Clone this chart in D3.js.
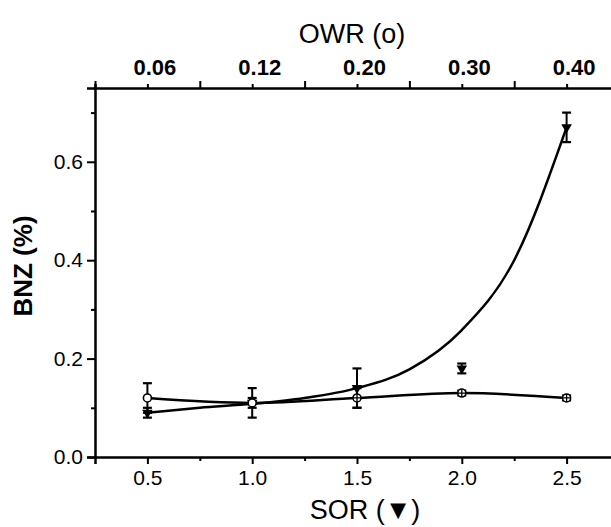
<!DOCTYPE html>
<html>
<head>
<meta charset="utf-8">
<script src="https://cdn.jsdelivr.net/npm/d3@7"></script>
<style>
  body { margin: 0; background: #fff; }
  svg { font-family: "Liberation Sans", Arial, "DejaVu Sans", sans-serif; }
  .axis path, .axis line { stroke: #000; }
  .axis text { fill: #000; font-family: "Liberation Sans", Arial, sans-serif; }
</style>
</head>
<body>
<div id="chart"></div>
<script>
//*********************** DATA ***********************
var sor = [0.5, 1.0, 1.5, 2.0, 2.5];                 // bottom axis positions
var owrLabels = ["0.06", "0.12", "0.20", "0.30", "0.40"]; // top axis labels
var owrVal = [0.12, 0.11, 0.12, 0.13, 0.12];
var owrErr = [0.03, 0.03, 0.02, 0.005, 0.005];
var sorVal = [0.09, 0.11, 0.14, 0.18, 0.67];
var sorErr = [0.01, 0.01, 0.04, 0.01, 0.03];
// fitted curve for SOR series
var sorFitX = [0.5, 0.75, 1.0, 1.25, 1.5, 1.75, 2.0, 2.25, 2.5];
var sorFitY = [0.09, 0.10, 0.108, 0.12, 0.14, 0.178, 0.258, 0.40, 0.67];

//*********************** SETUP ***********************
var width = 611, height = 527;
var x = d3.scaleLinear().domain([0.25, 2.75]).range([95, 619]);
var y = d3.scaleLinear().domain([0, 0.75]).range([457, 88]);

var svg = d3.select("#chart").append("svg")
  .attr("width", width).attr("height", height);

//*********************** AXES ***********************
// bottom
var bottomAx = svg.append("g").attr("class", "axis")
  .attr("transform", "translate(0," + y(0) + ")")
  .call(d3.axisBottom(x).tickValues(sor).tickFormat(d3.format(".1f"))
    .tickSize(7).tickPadding(6));
bottomAx.append("g").call(d3.axisBottom(x).tickValues([0.75, 1.25, 1.75, 2.25]).tickSize(4).tickFormat(""))
  .select(".domain").remove();
bottomAx.select(".domain").attr("stroke-width", 2.5);
bottomAx.selectAll("line").attr("stroke-width", 2);
bottomAx.selectAll("text").attr("font-size", 21);

// top
var topAx = svg.append("g").attr("class", "axis")
  .attr("transform", "translate(0," + y(0.75) + ")")
  .call(d3.axisTop(x).tickValues(sor).tickFormat(function(d, i) { return owrLabels[i]; })
    .tickSize(4).tickPadding(9));
topAx.append("g").call(d3.axisTop(x).tickValues([0.25, 0.75, 1.25, 1.75, 2.25, 2.75]).tickSize(7).tickFormat(""))
  .select(".domain").remove();
topAx.select(".domain").attr("stroke-width", 2.5);
topAx.selectAll("line").attr("stroke-width", 2);
topAx.selectAll("text").attr("font-size", 22).attr("font-weight", "bold").attr("dx", 7);

// left
var leftAx = svg.append("g").attr("class", "axis")
  .attr("transform", "translate(" + x(0.25) + ",0)")
  .call(d3.axisLeft(y).tickValues([0, 0.2, 0.4, 0.6]).tickFormat(d3.format(".1f"))
    .tickSize(8).tickPadding(4));
leftAx.append("g").call(d3.axisLeft(y).tickValues([0.1, 0.3, 0.5, 0.7]).tickSize(4).tickFormat(""))
  .select(".domain").remove();
leftAx.select(".domain").attr("stroke-width", 2.5);
leftAx.selectAll("line").attr("stroke-width", 2);
leftAx.selectAll("text").attr("font-size", 21);

// titles
svg.append("text").attr("x", 352).attr("y", 43).attr("text-anchor", "middle")
  .attr("font-size", 27).text("OWR (o)");
svg.append("text").attr("x", 365).attr("y", 519).attr("text-anchor", "middle")
  .attr("font-size", 27).text("SOR (▼)");
svg.append("text").attr("transform", "translate(32," + 266 + ") rotate(-90)")
  .attr("text-anchor", "middle").attr("font-size", 26).attr("font-weight", "bold")
  .text("BNZ (%)");

//*********************** CURVES ***********************
var owrPts = sor.map(function(d, i) { return [d, owrVal[i]]; });
var fitPts = sorFitX.map(function(d, i) { return [d, sorFitY[i]]; });
var line = d3.line().x(function(d) { return x(d[0]); }).y(function(d) { return y(d[1]); })
  .curve(d3.curveMonotoneX);

svg.append("path").datum(owrPts).attr("d", line)
  .attr("fill", "none").attr("stroke", "#000").attr("stroke-width", 2.5);
svg.append("path").datum(fitPts).attr("d", line)
  .attr("fill", "none").attr("stroke", "#000").attr("stroke-width", 2.5);

//*********************** ERROR BARS + MARKERS ***********************
function errorBars(g, vals, errs, cap) {
  var eb = g.selectAll("g").data(sor).enter().append("g");
  eb.append("line")
    .attr("x1", function(d) { return x(d); }).attr("x2", function(d) { return x(d); })
    .attr("y1", function(d, i) { return y(vals[i] + errs[i]); })
    .attr("y2", function(d, i) { return y(vals[i] - errs[i]); })
    .attr("stroke", "#000").attr("stroke-width", 2);
  [1, -1].forEach(function(s) {
    eb.append("line")
      .attr("x1", function(d) { return x(d) - cap; }).attr("x2", function(d) { return x(d) + cap; })
      .attr("y1", function(d, i) { return y(vals[i] + s * errs[i]); })
      .attr("y2", function(d, i) { return y(vals[i] + s * errs[i]); })
      .attr("stroke", "#000").attr("stroke-width", 2.2);
  });
}

errorBars(svg.append("g"), owrVal, owrErr, 4.5);
errorBars(svg.append("g"), sorVal, sorErr, 4.5);

var tri = d3.symbol().type(d3.symbolTriangle).size(48);
svg.append("g").selectAll("path").data(sor).enter().append("path")
  .attr("d", tri)
  .attr("transform", function(d, i) { return "translate(" + x(d) + "," + y(sorVal[i]) + ") rotate(180)"; })
  .attr("fill", "#000");

var owrMarks = svg.append("g");
owrMarks.selectAll("circle").data(sor).enter().append("circle")
  .attr("cx", function(d) { return x(d); })
  .attr("cy", function(d, i) { return y(owrVal[i]); })
  .attr("r", 4).attr("fill", "#fff").attr("stroke", "#000").attr("stroke-width", 1.6);
// crosshair inside the open circles where lines run through them
owrMarks.selectAll("path").data(sor.filter(function(d) { return d >= 1.5; })).enter().append("path")
  .attr("d", function(d) {
    var i = sor.indexOf(d), cx = x(d), cy = y(owrVal[i]);
    return "M" + (cx - 4) + "," + cy + "H" + (cx + 4) + "M" + cx + "," + (cy - 4) + "V" + (cy + 4);
  })
  .attr("stroke", "#000").attr("stroke-width", 1.3);
</script>
</body>
</html>
